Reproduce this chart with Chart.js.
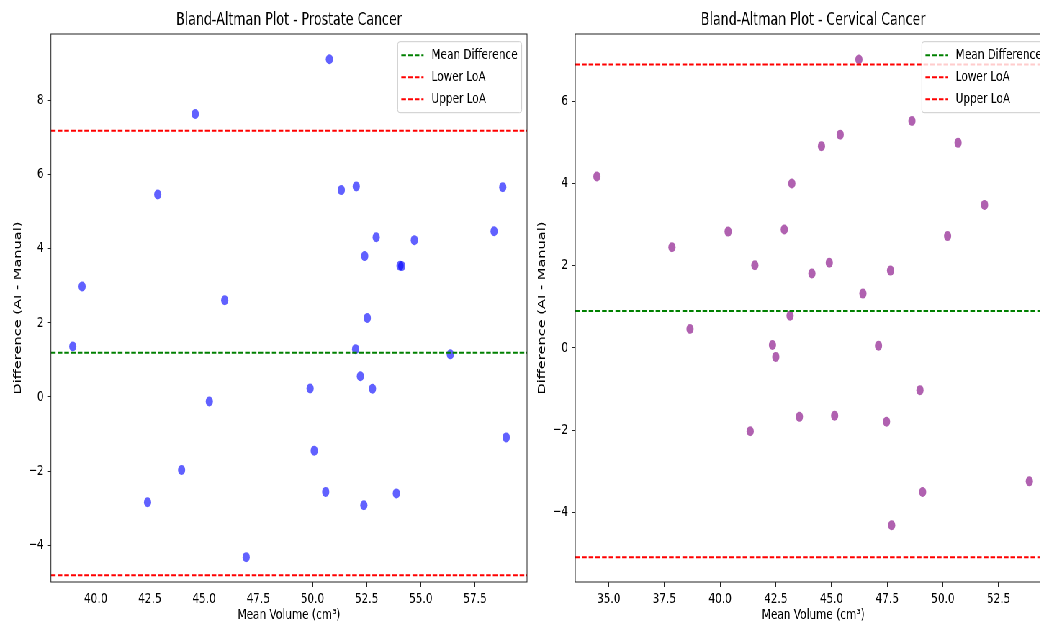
<!DOCTYPE html>
<html>
<head>
<meta charset="utf-8">
<script src="https://cdn.jsdelivr.net/npm/chart.js@4.4.1/dist/chart.umd.min.js"></script>
<style>
  html, body { margin: 0; padding: 0; background: #fff; overflow: hidden; width: 1040px; height: 626px; }
  /* the reference is squeezed horizontally, so draw wide and scale down */
  #wrap { position: absolute; left: 0; top: 0; width: 1490px; height: 626px; transform: scaleX(0.72); transform-origin: 0 0; }
  #c1 { position: absolute; left: 0; top: 0; }
  #c2 { position: absolute; left: 740px; top: 0; }
</style>
</head>
<body>
<div id="wrap">
  <canvas id="c1" width="740" height="626"></canvas>
  <canvas id="c2" width="750" height="626"></canvas>
</div>
<script>
// Prostate cancer: mean volume vs difference (AI - Manual)
const prostateMean = [50.78, 44.59, 42.86, 51.33, 52.02, 58.78, 58.38, 52.94, 54.70, 52.41,
                      54.04, 54.12, 39.37, 45.95, 52.53, 38.94, 51.99, 56.36, 52.21, 49.89,
                      52.77, 45.24, 58.94, 50.08, 43.96, 42.39, 50.61, 53.87, 52.37, 46.94];
const prostateDiff = [9.11, 7.63, 5.46, 5.58, 5.68, 5.66, 4.47, 4.31, 4.23, 3.80,
                      3.54, 3.53, 2.98, 2.61, 2.13, 1.36, 1.29, 1.15, 0.56, 0.23,
                      0.22, -0.12, -1.09, -1.45, -1.97, -2.84, -2.56, -2.60, -2.92, -4.32];
// mean difference, lower LoA, upper LoA
const prostateStats = [1.19, -4.81, 7.18];

// Cervical cancer
const cervicalMean = [34.47, 46.23, 48.61, 45.39, 44.55, 50.68, 43.22, 51.87, 37.84, 40.36,
                      42.88, 50.21, 41.56, 44.90, 44.12, 47.65, 46.41, 43.14, 38.65, 42.35,
                      42.50, 47.11, 48.97, 43.56, 45.14, 47.47, 41.35, 53.88, 49.09, 47.70];
const cervicalDiff = [4.17, 7.02, 5.52, 5.19, 4.91, 4.99, 4.00, 3.48, 2.45, 2.83,
                      2.88, 2.72, 2.01, 2.07, 1.81, 1.88, 1.32, 0.78, 0.46, 0.07,
                      -0.22, 0.05, -1.03, -1.68, -1.65, -1.80, -2.03, -3.25, -3.51, -4.32];
const cervicalStats = [0.90, -5.10, 6.90];

const statLabels = ['Mean Difference', 'Lower LoA', 'Upper LoA'];
const statColors = ['#008000', '#ff0000', '#ff0000'];

// tick labels
const prostateXTicks = [40, 42.5, 45, 47.5, 50, 52.5, 55, 57.5];
const prostateYTicks = [-4, -2, 0, 2, 4, 6, 8];
const cervicalXTicks = [35, 37.5, 40, 42.5, 45, 47.5, 50, 52.5];
const cervicalYTicks = [-4, -2, 0, 2, 4, 6];

// axis ranges [min, max]
const prostateXRange = [37.93, 59.90];
const prostateYRange = [-4.99, 9.79];
const cervicalXRange = [33.50, 54.86];
const cervicalYRange = [-5.70, 7.64];

const FONT = '"DejaVu Sans", sans-serif';
const FS = 14.6;
const DASH = [6.5, 2.8];

// box round the plot, like matplotlib spines
const frame = {
    id: 'frame',
    afterDatasetsDraw(chart) {
        const a = chart.chartArea, ctx = chart.ctx;
        ctx.save();
        ctx.strokeStyle = '#222';
        ctx.lineWidth = 1;
        ctx.strokeRect(a.left, a.top, a.right - a.left, a.bottom - a.top);
        ctx.restore();
    }
};

// legend box in the upper right corner of the plot
const boxLegend = {
    id: 'boxLegend',
    afterDraw(chart) {
        const a = chart.chartArea, ctx = chart.ctx;
        const items = chart.data.datasets.filter(d => d.showLine);
        ctx.save();
        ctx.font = FS + 'px ' + FONT;
        const pad = 5, handle = 31, gap = 11, padR = 5.6, rowH = 22;
        const tw = Math.max(...items.map(d => ctx.measureText(d.label).width));
        const w = pad + handle + gap + tw + padR;
        const h = rowH * items.length + 5;
        const x = a.right - 7.4 - w, y = a.top + 7.7, r = 3;
        ctx.beginPath();
        ctx.moveTo(x + r, y);
        ctx.lineTo(x + w - r, y);
        ctx.quadraticCurveTo(x + w, y, x + w, y + r);
        ctx.lineTo(x + w, y + h - r);
        ctx.quadraticCurveTo(x + w, y + h, x + w - r, y + h);
        ctx.lineTo(x + r, y + h);
        ctx.quadraticCurveTo(x, y + h, x, y + h - r);
        ctx.lineTo(x, y + r);
        ctx.quadraticCurveTo(x, y, x + r, y);
        ctx.closePath();
        ctx.fillStyle = 'rgba(255,255,255,0.8)';
        ctx.fill();
        ctx.strokeStyle = '#cccccc';
        ctx.lineWidth = 1;
        ctx.stroke();
        items.forEach((d, i) => {
            const cy = y + 13.6 + i * rowH;
            ctx.beginPath();
            ctx.setLineDash(DASH);
            ctx.strokeStyle = d.borderColor;
            ctx.lineWidth = 2;
            ctx.moveTo(x + pad, cy);
            ctx.lineTo(x + pad + handle, cy);
            ctx.stroke();
            ctx.setLineDash([]);
            ctx.fillStyle = '#000';
            ctx.textBaseline = 'middle';
            ctx.textAlign = 'left';
            ctx.fillText(d.label, x + pad + handle + gap, cy);
        });
        ctx.restore();
    }
};

function fmtY(v) {
    return (v < 0 ? '\u2212' : '') + Math.abs(v);
}

function makeChart(id, title, xs, ys, stats, pointColor, xTicks, yTicks, xRange, yRange, yWidth, padRight, yTitlePad) {
    const pts = xs.map((x, i) => ({ x: x, y: ys[i] }));
    const datasets = [{
        label: 'data',
        data: pts,
        backgroundColor: pointColor,
        borderWidth: 0,
        pointRadius: 5,
        order: 1
    }];
    stats.forEach((s, i) => {
        datasets.push({
            label: statLabels[i],
            data: [{ x: xRange[0], y: s }, { x: xRange[1], y: s }],
            showLine: true,
            borderColor: statColors[i],
            borderWidth: 2,
            borderDash: DASH,
            pointRadius: 0,
            order: 0
        });
    });

    return new Chart(document.getElementById(id), {
        type: 'scatter',
        data: { datasets: datasets },
        options: {
            responsive: false,
            animation: false,
            devicePixelRatio: 1,
            layout: { padding: { left: 0, right: padRight, top: 0, bottom: 0 } },
            plugins: {
                legend: { display: false },
                tooltip: { enabled: false },
                title: {
                    display: true,
                    text: title,
                    fullSize: false,
                    color: '#000',
                    font: { family: FONT, size: 17.5, weight: 'normal' },
                    padding: { top: 9.5, bottom: 3.5 }
                }
            },
            scales: {
                x: {
                    type: 'linear',
                    min: xRange[0],
                    max: xRange[1],
                    afterBuildTicks: s => { s.ticks = xTicks.map(v => ({ value: v })); },
                    afterFit: s => { s.height = 44; },
                    grid: { drawOnChartArea: false, drawTicks: true, tickLength: 5, color: '#222' },
                    border: { display: false },
                    ticks: {
                        color: '#000',
                        font: { family: FONT, size: FS },
                        padding: 3,
                        autoSkip: false,
                        maxRotation: 0,
                        callback: v => v.toFixed(1)
                    },
                    title: {
                        display: true,
                        text: 'Mean Volume (cm\u00b3)',
                        color: '#000',
                        font: { family: FONT, size: FS },
                        padding: { top: 0, bottom: 2.5 }
                    }
                },
                y: {
                    type: 'linear',
                    min: yRange[0],
                    max: yRange[1],
                    afterBuildTicks: s => { s.ticks = yTicks.map(v => ({ value: v })); },
                    afterFit: s => { s.width = yWidth; },
                    grid: { drawOnChartArea: false, drawTicks: true, tickLength: 5, color: '#222' },
                    border: { display: false },
                    ticks: {
                        color: '#000',
                        font: { family: FONT, size: FS },
                        padding: 5,
                        callback: v => fmtY(v)
                    },
                    title: {
                        display: true,
                        text: 'Difference (AI - Manual)',
                        color: '#000',
                        font: { family: FONT, size: FS },
                        padding: { top: yTitlePad, bottom: 0 }
                    }
                }
            }
        },
        plugins: [frame, boxLegend]
    });
}

makeChart('c1', 'Bland-Altman Plot - Prostate Cancer', prostateMean, prostateDiff, prostateStats,
    'rgba(0,0,255,0.62)', prostateXTicks, prostateYTicks, prostateXRange, prostateYRange, 70.7, 8, 16.2);
makeChart('c2', 'Bland-Altman Plot - Cervical Cancer', cervicalMean, cervicalDiff, cervicalStats,
    'rgba(128,0,128,0.62)', cervicalXTicks, cervicalYTicks, cervicalXRange, cervicalYRange, 59, 30, 4.2);
</script>
</body>
</html>
